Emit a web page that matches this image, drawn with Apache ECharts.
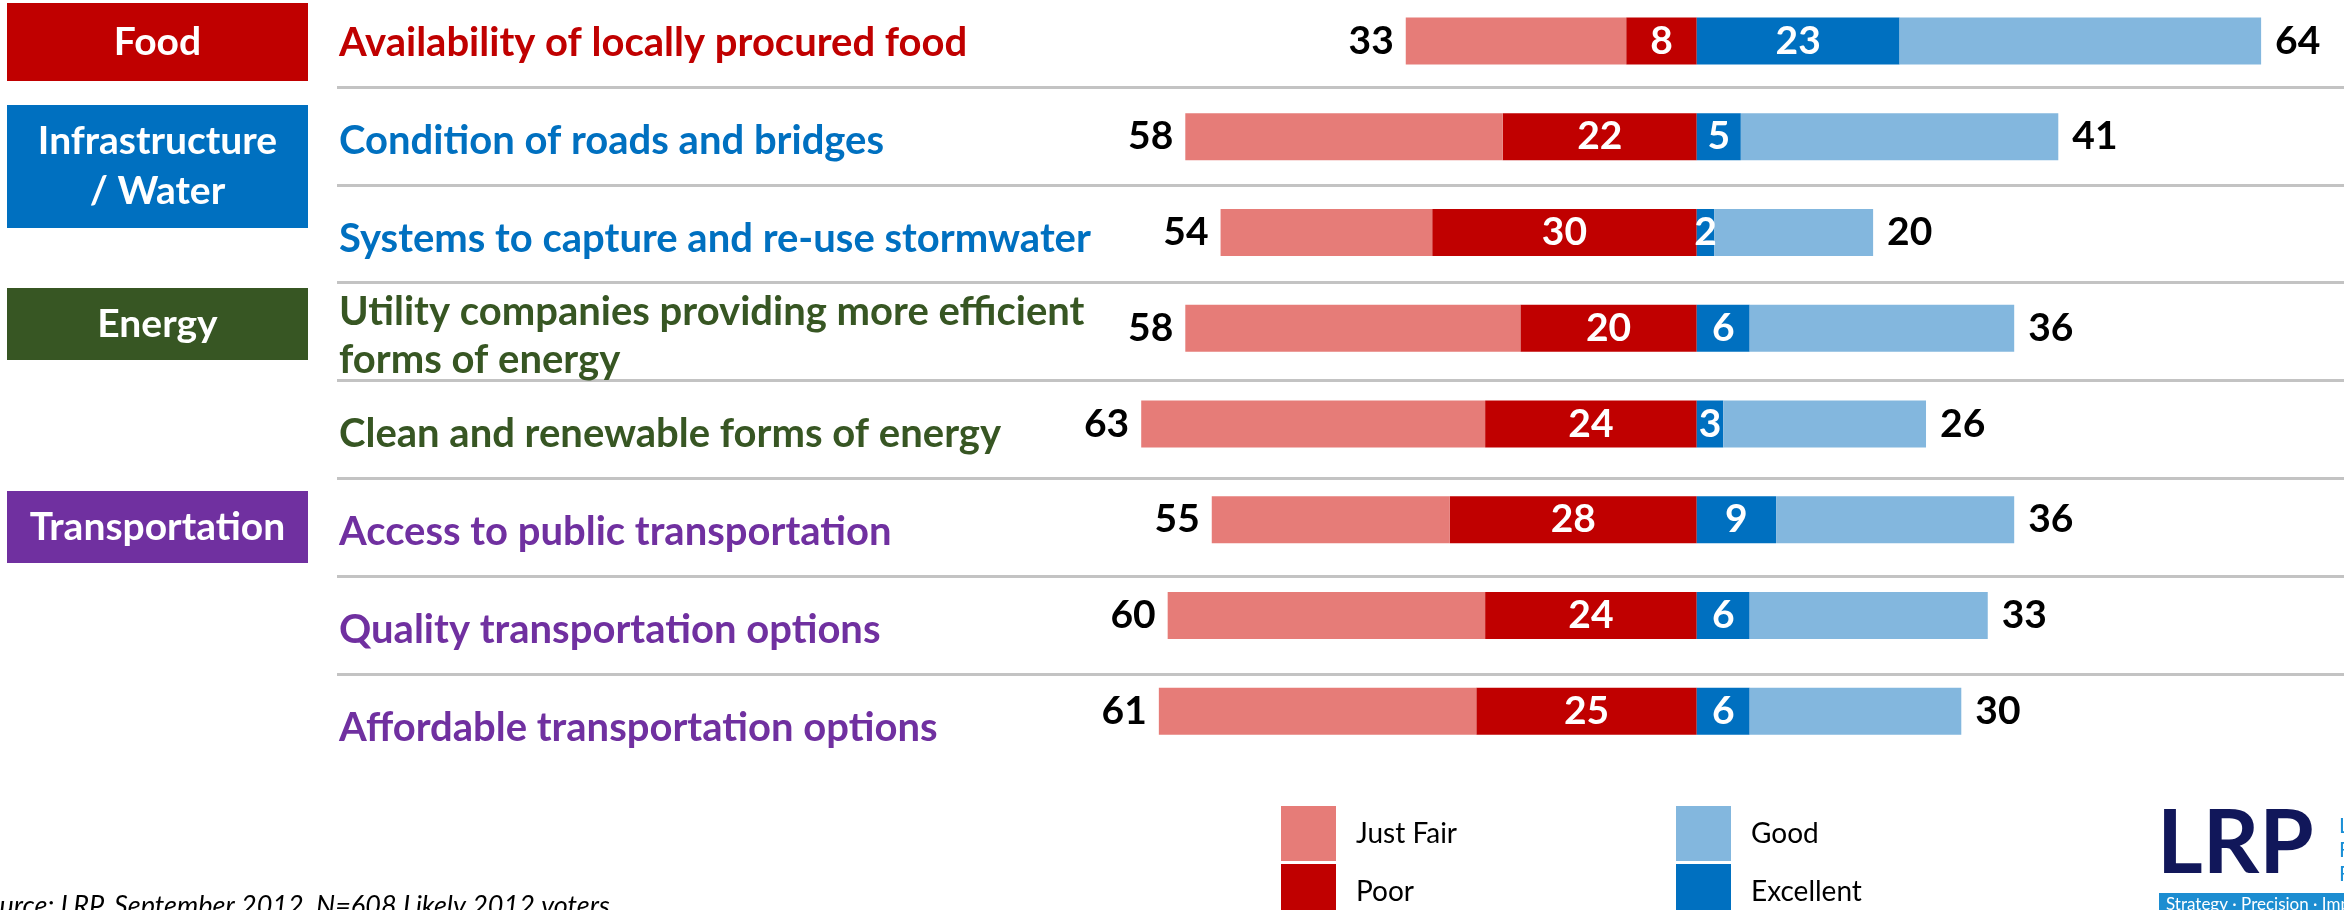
<!DOCTYPE html>
<html>
<head>
<meta charset="utf-8">
<title>Ratings by area</title>
<script src="https://cdn.jsdelivr.net/npm/echarts@6/dist/echarts.min.js"></script>
<style>
  html, body { margin: 0; padding: 0; background: #fff; }
  #chart { width: 2344px; height: 910px; }
</style>
</head>
<body>
<div id="chart"></div>
<script>
// rows, top to bottom
const categories = [
  'Availability of locally procured food',
  'Condition of roads and bridges',
  'Systems to capture and re-use stormwater',
  'Utility companies providing more efficient\nforms of energy',
  'Clean and renewable forms of energy',
  'Access to public transportation',
  'Quality transportation options',
  'Affordable transportation options'
];
const rowGroup = ['Food', 'Infrastructure', 'Infrastructure', 'Energy', 'Energy',
  'Transportation', 'Transportation', 'Transportation'];

// bar segments (%)
const justFair  = [25, 36, 24, 38, 39, 27, 36, 36];
const poor      = [8, 22, 30, 20, 24, 28, 24, 25];
const excellent = [23, 5, 2, 6, 3, 9, 6, 6];
const good      = [41, 36, 18, 30, 23, 27, 27, 24];
// totals printed at the bar ends
const fairPoorTotal = [33, 58, 54, 58, 63, 55, 60, 61];
const goodExcTotal  = [64, 41, 20, 36, 26, 36, 33, 30];

const groupColor = {
  Food: '#c00000',
  Infrastructure: '#0070c0',
  Energy: '#375623',
  Transportation: '#7030a0'
};
const colors = {
  justFair: '#e67c78',
  poor: '#c00000',
  excellent: '#0070c0',
  good: '#83b7de'
};
const FONT = 'Lato';

let chart = echarts.init(document.getElementById('chart'));

const numLabel = {
  fontFamily: FONT,
  fontWeight: 'bold',
  fontSize: 39
};

function seg(name, values, color, sign, label) {
  return {
    name: name,
    type: 'bar',
    stack: 'rating',
    xAxisIndex: 0,
    yAxisIndex: 0,
    barWidth: 47,
    data: values.map(v => sign * v),
    itemStyle: { color: color },
    label: Object.assign({ show: true }, numLabel, label)
  };
}

// one legend block per key, laid out in two columns
function legendItem(name, left, top) {
  return {
    data: [name],
    left: left, top: top,
    icon: 'rect', itemWidth: 55, itemHeight: 55,
    selectedMode: false,
    textStyle: { fontFamily: FONT, fontSize: 28, color: '#000', padding: [0, 0, 0, 15] }
  };
}

function groupBox(y, h, text, color) {
  return {
    type: 'rect', shape: { x: 7, y: y, width: 301, height: h },
    style: { fill: color },
    textContent: {
      style: { text: text, fill: '#fff', fontFamily: FONT, fontWeight: 'bold', fontSize: 39, lineHeight: 50, align: 'center' }
    },
    textConfig: { position: 'inside' }
  };
}

const option = {
  animation: false,
  grid: [
    // bars
    { left: 337, right: 0, top: -6.9, height: 766, outerBoundsMode: 'none' },
    // row text
    { left: 337, right: 0, top: -5.8, height: 782.4, outerBoundsMode: 'none' },
    // separators
    { left: 337, right: 0, top: -10.8, height: 684.6, outerBoundsMode: 'none' }
  ],
  xAxis: [
    { type: 'value', gridIndex: 0, min: -154.2, max: 73.4, show: false },
    { type: 'value', gridIndex: 1, min: 0, max: 1, show: false },
    { type: 'value', gridIndex: 2, min: 0, max: 1, show: false }
  ],
  yAxis: [
    { type: 'category', gridIndex: 0, inverse: true, data: categories, show: false },
    {
      type: 'category', gridIndex: 1, inverse: true, data: categories,
      axisLine: { show: false }, axisTick: { show: false }, splitLine: { show: false },
      axisLabel: {
        inside: true,
        margin: 2,
        fontFamily: FONT,
        fontWeight: 'bold',
        fontSize: 40,
        lineHeight: 48,
        color: (v, i) => groupColor[rowGroup[i]]
      }
    },
    {
      type: 'category', gridIndex: 2, inverse: true, data: categories.slice(0, 7),
      axisLine: { show: false }, axisTick: { show: false }, axisLabel: { show: false },
      splitLine: { show: true, lineStyle: { color: '#c3c3c3', width: 3 } }
    }
  ],
  legend: [
    legendItem('Just Fair', 1276, 801),
    legendItem('Poor', 1276, 859),
    legendItem('Good', 1671, 801),
    legendItem('Excellent', 1671, 859)
  ],
  series: [
    seg('Poor', poor, colors.poor, -1, {
      position: 'inside', color: '#fff',
      formatter: p => poor[p.dataIndex]
    }),
    seg('Just Fair', justFair, colors.justFair, -1, {
      position: 'left', distance: 12, color: '#000',
      formatter: p => fairPoorTotal[p.dataIndex]
    }),
    seg('Excellent', excellent, colors.excellent, 1, {
      position: 'inside', color: '#fff',
      formatter: p => excellent[p.dataIndex]
    }),
    seg('Good', good, colors.good, 1, {
      position: 'right', distance: 14, color: '#000',
      formatter: p => goodExcTotal[p.dataIndex]
    })
  ],
  graphic: [
    groupBox(3, 78, 'Food', groupColor.Food),
    groupBox(105, 123, 'Infrastructure\n/ Water', groupColor.Infrastructure),
    groupBox(288, 72, 'Energy', groupColor.Energy),
    groupBox(491, 72, 'Transportation', groupColor.Transportation),
    // source note
    {
      type: 'text', x: 616, y: 906,
      style: {
        text: 'Source: LRP, September 2012, N=608 Likely 2012 voters.',
        align: 'right', verticalAlign: 'middle',
        fontFamily: FONT, fontStyle: 'italic', fontSize: 27, fill: '#000'
      }
    },
    // logo
    {
      type: 'text', x: 2157, y: 845,
      style: {
        text: 'LRP', verticalAlign: 'middle',
        fontFamily: FONT, fontWeight: 'bold', fontSize: 88,
        fill: '#11175a'
      }
    },
    { type: 'rect', shape: { x: 2159, y: 893, width: 185, height: 17 }, style: { fill: '#1c8dd1' } },
    {
      type: 'text', x: 2166, y: 905,
      style: { text: 'Strategy \u00b7 Precision \u00b7 Impact', verticalAlign: 'middle', fontFamily: FONT, fontSize: 17, fill: '#fff' }
    },
    {
      type: 'text', x: 2339, y: 850,
      style: { text: 'L\nR\nR', verticalAlign: 'middle', lineHeight: 24, fontFamily: FONT, fontSize: 21, fill: '#1a8fd6' }
    }
  ]
};

chart.setOption(option);
</script>
</body>
</html>
